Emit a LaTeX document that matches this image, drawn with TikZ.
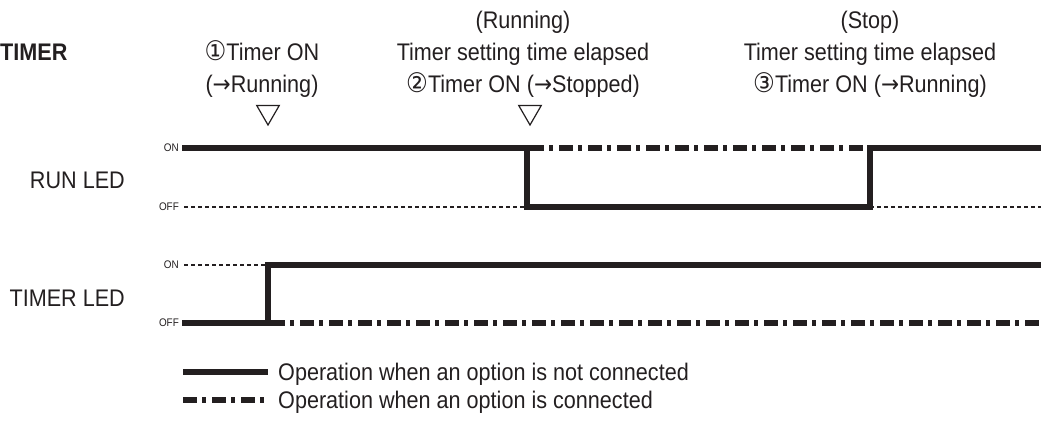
\documentclass[tikz,border=0pt]{standalone}
\usepackage{fontspec}
\setmainfont[FakeStretch=0.9]{Liberation Sans}
\newfontfamily\symfont[FakeStretch=0.9]{DejaVu Sans}
\usetikzlibrary{shapes.geometric}
\definecolor{ink}{RGB}{35,31,32}
\newcommand\cnum[1]{{\symfont #1}}
\newcommand\cdig[1]{{\symfont\fontsize{27}{32}\selectfont #1}}

\begin{document}
\begin{tikzpicture}[x=1pt, y=-1pt,
  every node/.style={font=\fontsize{24}{32}\selectfont, text=ink, inner sep=0pt},
  lbl/.style={align=center, anchor=base},
  lvl/.style={font=\fontsize{11}{11}\selectfont, anchor=east},
  sig/.style={draw=ink, line width=6.5pt},
  opt/.style={draw=ink, line width=5.5pt, dash pattern=on 14pt off 5pt on 4pt off 6pt, dash phase=-3pt},
  idle/.style={draw=ink, line width=2pt, dash pattern=on 4pt off 3pt},
  tri/.style={draw=ink, line width=1.2pt, regular polygon, regular polygon sides=3,
    shape border rotate=180, minimum size=26pt}]
\useasboundingbox (0,0) rectangle (1041,423);
% event times
\coordinate (t1) at (268,0);
\coordinate (t2) at (527,0);
\coordinate (t3) at (870,0);
\coordinate (xe) at (1041,0);
% headings (base = last line)
\node[anchor=base west, font=\fontsize{24}{32}\selectfont\bfseries] (ttl) at (0,60) {TIMER};
\node[lbl] (ev1) at (262,92) {\cdig{①}Timer ON\\(\cnum{→}Running)};
\node[lbl] (ev2) at (523,92) {(Running)\\Timer setting time elapsed\\\cdig{②}Timer ON (\cnum{→}Stopped)};
\node[lbl] (ev3) at (870,92) {(Stop)\\Timer setting time elapsed\\\cdig{③}Timer ON (\cnum{→}Running)};
\node[tri] (mk1) at (268,112) {};
\node[tri] (mk2) at (530,112) {};
% RUN LED
\node[anchor=base east] (runlbl) at (125,188) {RUN LED};
\node[lvl] (runON) at (179,148) {ON};
\node[lvl] (runOFF) at (179,207) {OFF};
\draw[idle] ([xshift=5pt]runOFF.east) -- (runOFF -| t2);
\draw[idle] (runOFF -| t3) -- (runOFF -| xe);
\draw[opt] (runON -| t2) -- (runON -| t3);
\draw[sig] ([xshift=3pt]runON.east) -- (runON -| t2) -- (runOFF -| t2) -- (runOFF -| t3)
  -- (runON -| t3) -- (runON -| xe);
% TIMER LED
\node[anchor=base east] (tmrlbl) at (125,306) {TIMER LED};
\node[lvl] (tmrON) at (179,265) {ON};
\node[lvl] (tmrOFF) at (179,323) {OFF};
\draw[idle] ([xshift=5pt]tmrON.east) -- (tmrON -| t1);
\draw[opt] (tmrOFF -| t1) -- (tmrOFF -| xe);
\draw[sig] ([xshift=3pt]tmrOFF.east) -- (tmrOFF -| t1) -- (tmrON -| t1) -- (tmrON -| xe);
% legend
\coordinate (legA) at (183,372);
\coordinate (legB) at (183,400);
\node[anchor=base west] (legtxtA) at (278,380) {Operation when an option is not connected};
\node[anchor=base west] (legtxtB) at (278,408) {Operation when an option is connected};
\draw[sig, line width=6pt, shorten >=10pt] (legA) -- (legA -| legtxtA.west);
\draw[opt, dash phase=0pt, shorten >=10pt] (legB) -- (legB -| legtxtB.west);
\end{tikzpicture}
\end{document}
